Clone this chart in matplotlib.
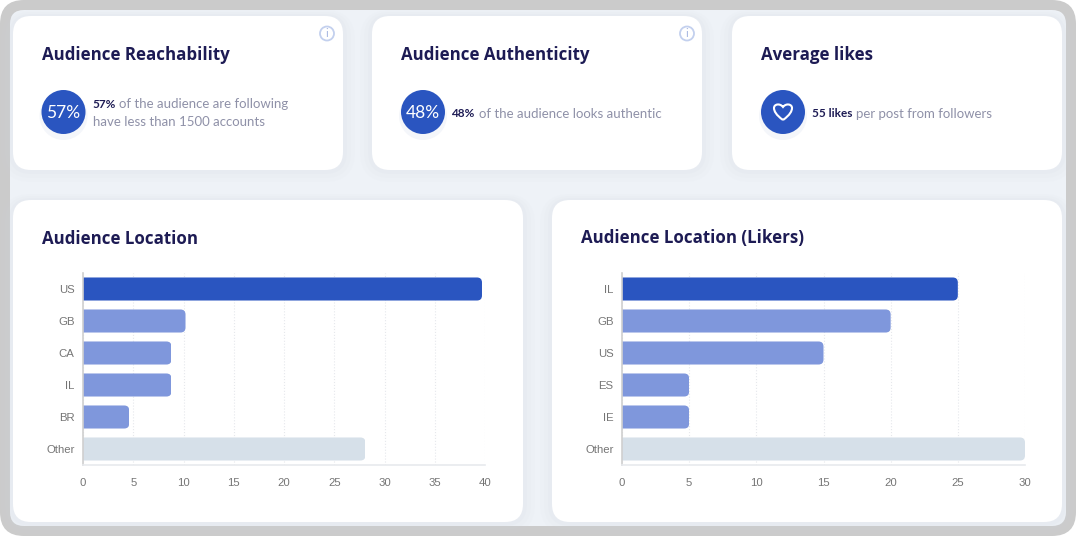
import matplotlib
matplotlib.use("Agg")
import matplotlib.pyplot as plt
from matplotlib.patches import FancyBboxPatch, Circle, PathPatch
from matplotlib.path import Path

W, H = 1076, 536

locations_a = ["US", "GB", "CA", "IL", "BR", "Other"]
values_a = [39.7, 10.2, 8.8, 8.8, 4.6, 28.1]
ticks_a = [0, 5, 10, 15, 20, 25, 30, 35, 40]

locations_b = ["IL", "GB", "US", "ES", "IE", "Other"]
values_b = [25, 20, 15, 5, 5, 30]
ticks_b = [0, 5, 10, 15, 20, 25, 30]

NAVY = "#1d1b54"
GREY = "#8f91a8"
BLUE = "#2a55c0"
LIGHT = "#7f97dc"
OTHER = "#d6e0e9"
TITLE_FONT = ["Open Sans", "DejaVu Sans"]
BODY_FONT = ["Lato", "DejaVu Sans"]

fig = plt.figure(figsize=(W / 100, H / 100), dpi=100, facecolor="white")

# whole figure in pixels for the cards
bg = fig.add_axes([0, 0, 1, 1])
bg.set_xlim(0, W)
bg.set_ylim(H, 0)
bg.axis("off")


def rounded(ax, x0, y0, x1, y1, r, **kw):
    p = FancyBboxPatch((x0, y0), x1 - x0, y1 - y0,
                       boxstyle="round,pad=0,rounding_size=%s" % r, **kw)
    ax.add_patch(p)
    return p


def card(x0, y0, x1, y1):
    # soft shadow under the card
    for grow, alpha in [(12, 0.06), (8, 0.08), (4, 0.10)]:
        rounded(bg, x0 - grow, y0 - grow / 2, x1 + grow, y1 + grow, 18 + grow,
                fc="#d3d9e4", ec="none", alpha=alpha)
    rounded(bg, x0, y0, x1, y1, 18, fc="white", ec="none")


def title(x, y, s):
    bg.text(x, y, s, color=NAVY, fontsize=12.2, fontweight="bold", family=TITLE_FONT, va="center")


def caption(x, y, s, bold=False):
    if bold:
        bg.text(x, y, s, color=NAVY, fontsize=8.5, fontweight="bold", family=BODY_FONT, va="center")
    else:
        bg.text(x, y, s, color=GREY, fontsize=9.5, family=BODY_FONT, va="center")


rounded(bg, 0, 0, W, H, 24, fc="#cbcbcb", ec="none")
rounded(bg, 10, 10, W - 10, H - 10, 14, fc="#eef2f7", ec="none")

card(13, 16, 343, 170)
card(372, 16, 702, 170)
card(732, 16, 1062, 170)
card(13, 200, 523, 522)
card(552, 200, 1062, 522)

title(42, 55, "Audience Reachability")
title(401, 55, "Audience Authenticity")
title(761, 55, "Average likes")
title(42, 238.5, "Audience Location")
title(581, 238.5, "Audience Location (Likers)")

# circles
for cx in [63.5, 423, 783]:
    bg.add_patch(Circle((cx, 116), 24, fc="#d5dcec", ec="none", alpha=0.25))
    bg.add_patch(Circle((cx, 112), 22, fc=BLUE, ec="none"))
bg.text(63.5, 113, "57%", color="white", fontsize=12.5, family=BODY_FONT, ha="center", va="center")
bg.text(423, 113, "48%", color="white", fontsize=12.5, family=BODY_FONT, ha="center", va="center")

# heart icon
heart = Path([(783, 120), (776, 115), (774, 111), (774, 108), (774, 104), (780, 103), (783, 107),
              (786, 103), (792, 104), (792, 108), (792, 111), (790, 115), (783, 120)],
             [Path.MOVETO, Path.CURVE4, Path.CURVE4, Path.CURVE4, Path.CURVE4, Path.CURVE4, Path.CURVE4,
              Path.CURVE4, Path.CURVE4, Path.CURVE4, Path.CURVE4, Path.CURVE4, Path.CURVE4])
bg.add_patch(PathPatch(heart, fc="none", ec="white", lw=1.5))

# info icons
for cx in [327, 687]:
    bg.add_patch(Circle((cx, 33.5), 7, fc="none", ec="#c3d0ee", lw=1.3))
    bg.text(cx, 33.5, "i", color="#a9b9e2", fontsize=8.5, family=BODY_FONT, ha="center", va="center")

caption(92.5, 104, "57%", bold=True)
caption(119, 104, "of the audience are following")
caption(93, 122, "have less than 1500 accounts")
caption(451.5, 113.5, "48%", bold=True)
caption(479, 113.5, "of the audience looks authentic")
caption(811.5, 113.5, "55 likes", bold=True)
caption(856, 113.5, "per post from followers")


def bar_chart(left, right, labels, values, ticks):
    top, bottom = 273, 465
    ax = fig.add_axes([left / W, 1 - bottom / H, (right - left) / W, (bottom - top) / H])
    ax.set_facecolor("none")
    colors = [BLUE] + [LIGHT] * 4 + [OTHER]
    bars = ax.barh(labels, values, height=0.72, color=colors, zorder=2)
    ax.set_xlim(ticks[0], ticks[-1])
    ax.set_ylim(5.5, -0.5)

    # round the bar ends: clip each bar to a rounded box
    xunit = (ticks[-1] - ticks[0]) / (right - left)
    yunit = 6 / (bottom - top)
    for b in bars:
        clip = FancyBboxPatch((-1, b.get_y()), b.get_width() + 1, b.get_height(),
                              boxstyle="round,pad=0,rounding_size=%s" % (5 * xunit),
                              mutation_aspect=yunit / xunit, transform=ax.transData)
        b.set_clip_path(clip)

    ax.set_xticks(ticks)
    ax.grid(axis="x", color="#e6e8ec", linestyle=":", linewidth=0.8, zorder=0)
    for s in ["top", "right"]:
        ax.spines[s].set_visible(False)
    ax.spines["left"].set_color("#cfcfcf")
    ax.spines["left"].set_linewidth(1.2)
    ax.spines["bottom"].set_color("#e8eaee")
    ax.spines["bottom"].set_linewidth(1.2)
    ax.tick_params(axis="y", length=0, labelsize=8.2, labelcolor="#757575", pad=6)
    ax.tick_params(axis="x", length=0, labelsize=8.2, labelcolor="#757575", pad=9)
    for t in ax.get_xticklabels() + ax.get_yticklabels():
        t.set_family("Liberation Sans")
    return ax


bar_chart(83, 485, locations_a, values_a, ticks_a)
bar_chart(622, 1025, locations_b, values_b, ticks_b)

fig.savefig("out.png", dpi=100)
